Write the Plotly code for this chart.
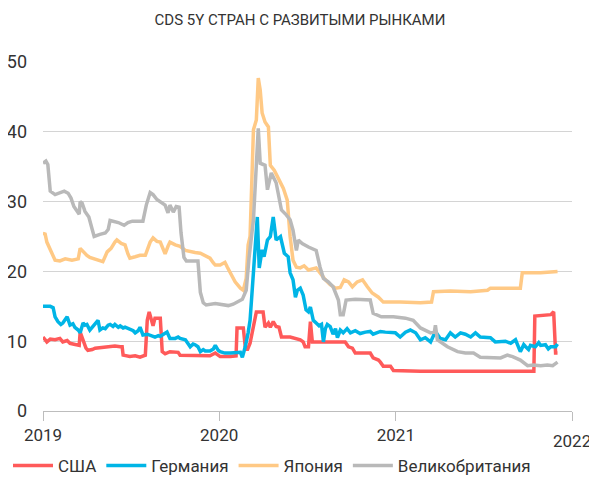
import pandas as pd
import plotly.graph_objects as go

# Observation time in days since 2019-01-01, and CDS 5Y values (bp)
usa_days = [0, 8, 15, 25, 35, 41, 50, 56, 62, 71, 75, 77, 83, 89, 93, 102, 108, 118, 129, 139, 149, 160, 164, 166,
            180, 191, 201, 212, 216, 220, 224, 228, 232, 243, 247, 253, 263, 274, 280, 284, 305, 326, 346, 357, 367,
            388, 400, 402, 415, 419, 423, 429, 436, 442, 456, 460, 467, 471, 477, 483, 489, 494, 512, 533, 539, 543,
            550, 554, 558, 574, 626, 633, 641, 647, 678, 684, 695, 699, 705, 720, 726, 782, 948, 1017, 1019, 1041,
            1052, 1058, 1062, 1066]
usa_vals = [10.6, 9.9, 10.3, 10.2, 10.4, 9.9, 10.1, 9.7, 9.6, 9.4, 9.4, 11.3, 10.2, 9.0, 8.7, 8.8, 9.0, 9.1, 9.2, 9.3,
            9.3, 9.2, 9.2, 8.0, 7.8, 7.9, 7.7, 8.0, 13.0, 14.2, 13.2, 12.2, 13.3, 13.3, 8.5, 8.2, 8.5, 8.5, 8.4, 8.0,
            8.0, 8.0, 7.9, 8.3, 7.8, 7.8, 7.9, 11.9, 11.9, 9.2, 8.7, 9.7, 12.0, 14.2, 14.2, 12.0, 12.6, 12.0, 12.8,
            12.1, 12.0, 10.6, 10.6, 10.2, 9.9, 9.2, 9.2, 12.8, 9.9, 9.9, 9.9, 9.2, 9.0, 8.3, 8.3, 7.6, 7.3, 7.0, 6.4,
            6.4, 5.8, 5.7, 5.7, 5.7, 13.6, 13.7, 13.8, 14.2, 8.3, 8.3]

ger_days = [0, 15, 21, 25, 31, 37, 41, 46, 50, 56, 62, 66, 73, 77, 83, 87, 91, 97, 104, 108, 114, 118, 124, 129, 135,
            139, 145, 149, 156, 160, 166, 170, 176, 180, 187, 191, 197, 201, 207, 216, 222, 228, 232, 239, 243, 249,
            257, 263, 274, 280, 284, 295, 301, 305, 311, 315, 321, 326, 332, 336, 346, 353, 357, 363, 367, 377, 388,
            398, 409, 413, 419, 425, 429, 433, 440, 444, 448, 454, 458, 465, 471, 477, 483, 492, 500, 508, 512, 518,
            523, 527, 533, 539, 545, 550, 554, 560, 566, 572, 577, 581, 585, 589, 595, 601, 606, 610, 616, 622, 630,
            637, 647, 657, 668, 678, 684, 693, 699, 709, 720, 730, 740, 751, 761, 772, 782, 792, 803, 813, 823, 834,
            844, 854, 865, 875, 886, 896, 906, 917, 927, 937, 948, 958, 969, 979, 989, 996, 1000, 1006, 1010, 1020,
            1027, 1031, 1041, 1047, 1052, 1062, 1066]
ger_vals = [15.0, 15.0, 14.8, 13.5, 12.8, 12.4, 12.6, 13.2, 13.5, 12.3, 12.5, 12.0, 11.6, 11.2, 12.6, 12.3, 12.4, 11.6,
            12.2, 12.6, 13.0, 11.6, 11.9, 11.8, 12.3, 12.4, 12.1, 12.4, 12.0, 12.2, 11.9, 12.0, 11.8, 11.6, 11.5,
            11.2, 11.5, 12.0, 10.9, 11.0, 10.9, 10.7, 10.6, 10.8, 10.7, 10.9, 11.3, 10.4, 10.4, 10.6, 10.4, 10.2,
            9.6, 9.2, 9.6, 9.5, 9.2, 8.5, 8.8, 8.6, 8.6, 8.9, 9.4, 8.7, 8.5, 8.3, 8.3, 8.4, 8.4, 7.7, 9.2, 11.2, 13.0,
            16.9, 23.5, 27.8, 20.5, 23.1, 22.1, 24.5, 25.0, 27.8, 24.5, 25.0, 22.6, 22.1, 19.8, 18.8, 16.3, 17.3,
            17.6, 16.6, 14.5, 14.2, 14.9, 13.0, 12.6, 12.2, 12.4, 9.9, 11.8, 12.4, 12.1, 11.0, 11.8, 10.5, 11.6,
            11.2, 11.8, 11.2, 11.5, 11.1, 11.3, 11.4, 11.0, 11.3, 11.4, 11.3, 11.2, 11.2, 10.6, 11.3, 11.6, 11.2,
            10.2, 10.5, 9.9, 11.4, 10.4, 10.2, 11.2, 10.6, 11.2, 11.0, 10.6, 11.2, 10.6, 10.6, 10.5, 9.9, 10.0, 10.0,
            9.7, 10.2, 8.5, 9.5, 9.2, 8.8, 9.4, 9.2, 9.8, 9.4, 9.5, 8.9, 9.2, 9.2, 9.6]

jpn_days = [0, 4, 8, 15, 21, 25, 35, 46, 60, 73, 77, 83, 91, 97, 108, 118, 124, 133, 141, 149, 153, 162, 170, 176,
            180, 191, 201, 212, 218, 222, 228, 236, 243, 249, 253, 259, 263, 274, 284, 295, 305, 315, 326, 336, 346,
            353, 357, 367, 377, 382, 388, 398, 409, 415, 421, 425, 429, 433, 436, 442, 446, 450, 454, 460, 467, 471,
            479, 487, 498, 506, 512, 518, 525, 533, 541, 550, 566, 574, 585, 595, 606, 616, 624, 633, 641, 651, 662,
            672, 682, 695, 705, 740, 782, 805, 809, 844, 886, 921, 927, 989, 993, 1031, 1052, 1066]
jpn_vals = [25.2, 25.5, 24.2, 23.0, 22.0, 21.6, 21.5, 21.8, 21.6, 21.8, 23.3, 22.8, 22.3, 22.0, 21.8, 21.6, 21.4, 22.8,
            23.3, 24.2, 24.5, 24.0, 23.8, 22.5, 21.9, 22.1, 22.3, 22.3, 23.5, 24.2, 24.8, 24.3, 24.2, 23.2, 22.5,
            23.6, 24.2, 23.8, 23.6, 23.0, 22.8, 22.7, 22.6, 22.3, 21.9, 21.2, 20.9, 20.9, 21.3, 20.6, 19.8, 18.5,
            17.6, 17.3, 19.0, 23.8, 25.0, 33.0, 40.3, 41.7, 47.7, 46.0, 42.7, 41.4, 40.7, 35.2, 34.5, 33.4, 31.9,
            30.2, 25.0, 21.6, 20.6, 20.5, 20.8, 20.2, 20.5, 19.8, 18.8, 18.1, 17.6, 17.7, 18.8, 18.5, 17.8, 18.5,
            18.8, 17.8, 16.9, 16.3, 15.6, 15.6, 15.5, 15.6, 17.1, 17.2, 17.1, 17.3, 17.6, 17.6, 19.8, 19.8, 19.9, 20.0]

gbr_days = [0, 6, 10, 15, 25, 35, 44, 52, 58, 64, 71, 75, 77, 81, 87, 95, 102, 106, 118, 129, 135, 139, 156, 168, 176,
            185, 207, 214, 222, 228, 236, 245, 253, 259, 263, 270, 276, 282, 286, 292, 297, 321, 326, 332, 338, 357,
            367, 384, 394, 404, 413, 421, 427, 436, 442, 446, 450, 460, 465, 473, 483, 494, 504, 512, 518, 525, 529,
            537, 550, 566, 574, 581, 591, 601, 612, 616, 622, 628, 647, 678, 684, 701, 726, 751, 767, 782, 803, 811,
            813, 817, 838, 859, 875, 892, 906, 927, 948, 962, 973, 989, 1004, 1016, 1031, 1045, 1056, 1066]
gbr_vals = [35.5, 35.8, 35.3, 31.5, 31.0, 31.2, 31.5, 31.2, 30.5, 29.3, 28.5, 28.2, 30.0, 29.8, 28.6, 27.8, 26.0, 25.0,
            25.3, 25.5, 26.0, 27.3, 27.0, 26.6, 27.0, 27.2, 27.2, 29.5, 31.3, 31.0, 30.3, 29.8, 29.5, 28.4, 29.5,
            28.5, 29.3, 29.2, 25.5, 22.0, 21.5, 21.5, 17.0, 15.5, 15.2, 15.4, 15.3, 15.1, 15.3, 15.6, 16.0, 17.3,
            22.0, 27.4, 36.0, 40.5, 35.5, 35.2, 31.7, 34.1, 32.7, 28.8, 28.1, 27.4, 25.9, 23.0, 24.5, 24.0, 23.5,
            23.0, 20.6, 19.0, 18.5, 17.8, 15.9, 13.8, 13.8, 15.9, 16.0, 15.9, 14.0, 13.5, 13.5, 13.3, 13.0, 11.9,
            11.2, 11.4, 12.3, 10.2, 9.2, 8.5, 8.3, 8.3, 7.7, 7.6, 7.6, 8.0, 7.8, 7.3, 6.5, 6.6, 6.5, 6.6, 6.5, 7.0]

series_names = ["США", "Германия", "Япония", "Великобритания"]
series_colors = ["#FF5A5A", "#00B5E6", "#FFC985", "#B9B9B9"]
year_ticks = ["2019-01-01", "2020-01-01", "2021-01-01", "2022-01-01"]
year_labels = ["2019", "2020", "2021", ""]
y_ticks = [0, 10, 20, 30, 40, 50]

base = pd.Timestamp("2019-01-01")


def to_dates(days):
    return base + pd.to_timedelta(days, unit="D")


data = [(usa_days, usa_vals), (ger_days, ger_vals), (jpn_days, jpn_vals), (gbr_days, gbr_vals)]

FONT = "Liberation Sans Narrow, Roboto, Arial, sans-serif"

fig = go.Figure()
for (d, v), name, color in zip(data, series_names, series_colors):
    fig.add_trace(go.Scatter(x=to_dates(d), y=v, mode="lines", name=name,
                             line=dict(color=color, width=3.5)))

# The page body adds an 8px offset, so the figure is sized and placed to compensate.
W, H = 589, 471
fig.update_layout(
    width=W, height=H,
    margin=dict(l=35, r=25, t=54, b=68, autoexpand=False),
    paper_bgcolor="white", plot_bgcolor="white",
    font=dict(family=FONT, color="#333333", size=16),
    title=dict(text="CDS 5Y СТРАН С РАЗВИТЫМИ РЫНКАМИ", x=(300 - 8) / W, xanchor="center", xref="container",
               y=1 - 12 / H, yanchor="middle", yref="container",
               font=dict(size=15, color="#333333", family=FONT)),
    showlegend=True,
    legend=dict(orientation="h", xref="container", x=0, xanchor="left",
                yref="container", y=1 - 458 / H, yanchor="middle",
                font=dict(size=17, color="#333333", family=FONT), itemwidth=40, traceorder="normal",
                bgcolor="rgba(0,0,0,0)"),
    xaxis=dict(type="date", range=["2019-01-01", "2022-01-01"], tickvals=year_ticks, ticktext=year_labels,
               showgrid=False, showline=True, linecolor="#BDBDBD", linewidth=1, automargin=False,
               ticks="outside", ticklen=9, tickcolor="#BDBDBD", tickwidth=1,
               tickfont=dict(size=17, color="#333333", family=FONT), zeroline=False),
    yaxis=dict(range=[0, 50], tickvals=y_ticks, showgrid=True, gridcolor="#D4D4D4", gridwidth=1,
               zeroline=False, showline=False, ticks="", ticklabelstandoff=15, automargin=False,
               tickfont=dict(size=18, color="#333333", family=FONT)),
)

fig.add_annotation(text="2022", x="2022-01-01", y=0, xref="x", yref="y", yshift=-30, showarrow=False,
                   xanchor="center", yanchor="middle", font=dict(size=17, color="#333333", family=FONT))

fig.write_html("out.html")
